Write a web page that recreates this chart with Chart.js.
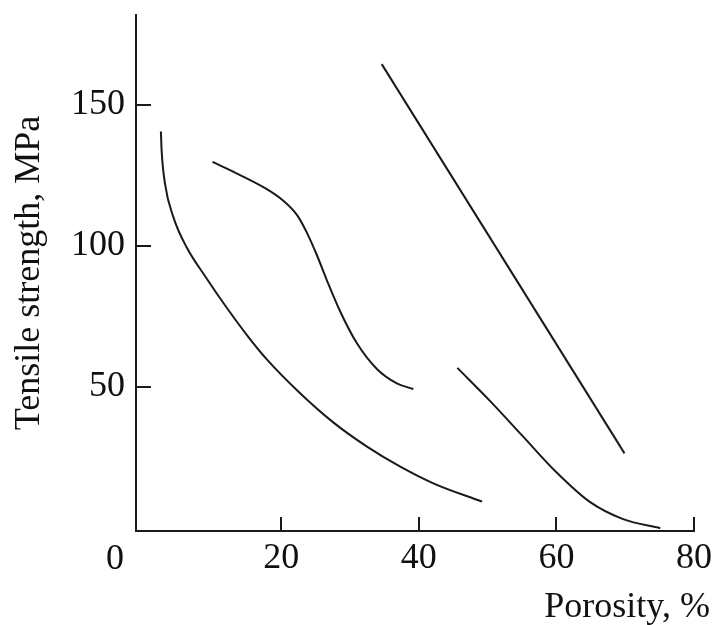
<!DOCTYPE html>
<html>
<head>
<meta charset="utf-8">
<script src="https://cdn.jsdelivr.net/npm/chart.js@4/dist/chart.umd.min.js"></script>
<style>
  html, body { margin: 0; padding: 0; background: #fff; }
  #wrap { width: 716px; height: 625px; }
</style>
</head>
<body>
<div id="wrap"><canvas id="strengthChart" width="716" height="625"></canvas></div>
<script>
// porosity (%) and tensile strength (MPa), one pair of arrays per curve
const curveAPorosity = [2.5, 2.6, 3.1, 4.3, 6.2, 9.2, 12.1, 15.2, 17.9, 22.7, 27.6, 32.4, 37.3, 42.1, 49.2];
const curveAStrength = [140.5, 134, 122, 110.3, 99.7, 88.3, 78.0, 67.8, 59.8, 47.9, 37.4, 29.0, 21.8, 15.9, 9.4];

const curveBPorosity = [10.0, 13.0, 17.9, 20.3, 22.3, 23.7, 25.2, 26.6, 28.6, 31.0, 33.9, 36.8, 39.2];
const curveBStrength = [129.8, 126.3, 120.1, 116.0, 110.9, 104.8, 96.6, 88.0, 76.6, 65.5, 56.4, 51.3, 49.3];

const curveCPorosity = [34.6, 69.9];
const curveCStrength = [164.4, 26.5];

const curveDPorosity = [45.6, 50.3, 55.1, 60.0, 64.8, 69.7, 75.1];
const curveDStrength = [56.8, 45.2, 32.6, 19.8, 9.4, 3.2, 0.0];

const xTickValues = [20, 40, 60, 80];
const yTickValues = [50, 100, 150];

const FONT = '"Liberation Serif", "Times New Roman", serif';
const INK = '#1a1a1a';

function toPoints(xs, ys) {
    return xs.map((x, i) => ({ x: x, y: ys[i] }));
}

function curve(xs, ys, smooth) {
    return {
        data: toPoints(xs, ys),
        showLine: true,
        borderColor: INK,
        borderWidth: 2,
        pointRadius: 0,
        fill: false,
        tension: 0,
        cubicInterpolationMode: smooth ? 'monotone' : 'default'
    };
}

// inward tick marks, the lone "0" at the corner and the x title at the far right
const axisExtras = {
    id: 'axisExtras',
    afterDraw(chart) {
        const { ctx, chartArea, scales } = chart;
        ctx.save();
        ctx.strokeStyle = INK;
        ctx.lineWidth = 2;
        ctx.beginPath();
        xTickValues.forEach(v => {
            const px = Math.round(scales.x.getPixelForValue(v));
            ctx.moveTo(px, chartArea.bottom);
            ctx.lineTo(px, chartArea.bottom - 14);
        });
        yTickValues.forEach(v => {
            const py = Math.round(scales.y.getPixelForValue(v));
            ctx.moveTo(chartArea.left, py);
            ctx.lineTo(chartArea.left + 15, py);
        });
        ctx.stroke();

        ctx.fillStyle = '#111';
        ctx.font = '36px ' + FONT;
        ctx.textBaseline = 'alphabetic';
        ctx.textAlign = 'center';
        ctx.fillText('0', 115, 569);
        ctx.textAlign = 'right';
        ctx.fillText('Porosity, %', 710, 617);
        ctx.restore();
    }
};

new Chart(document.getElementById('strengthChart'), {
    type: 'scatter',
    data: {
        datasets: [
            curve(curveAPorosity, curveAStrength, true),
            curve(curveBPorosity, curveBStrength, true),
            curve(curveCPorosity, curveCStrength, false),
            curve(curveDPorosity, curveDStrength, true)
        ]
    },
    options: {
        responsive: false,
        animation: false,
        layout: { padding: { top: 15, right: 22, bottom: 0, left: 0 } },
        plugins: {
            legend: { display: false },
            tooltip: { enabled: false }
        },
        scales: {
            x: {
                type: 'linear',
                min: -1.12,
                max: 80,
                afterBuildTicks: scale => { scale.ticks = xTickValues.map(v => ({ value: v })); },
                afterFit: scale => {
                    scale.height = 94;
                    scale.paddingLeft = 0;
                    scale.paddingRight = 0;
                },
                grid: { display: false },
                border: { display: true, color: INK, width: 2 },
                ticks: {
                    color: '#111',
                    padding: -2,
                    maxRotation: 0,
                    autoSkip: false,
                    font: { family: FONT, size: 36 }
                }
            },
            y: {
                type: 'linear',
                min: -1.0,
                max: 181.8,
                afterBuildTicks: scale => { scale.ticks = yTickValues.map(v => ({ value: v })); },
                afterFit: scale => {
                    scale.width = 136;
                    scale.paddingTop = 0;
                    scale.paddingBottom = 0;
                },
                grid: { display: false },
                border: { display: true, color: INK, width: 2 },
                title: {
                    display: true,
                    text: 'Tensile strength, MPa',
                    color: '#111',
                    padding: { top: 8, bottom: 0 },
                    font: { family: FONT, size: 36 }
                },
                ticks: {
                    color: '#111',
                    padding: 3,
                    autoSkip: false,
                    font: { family: FONT, size: 36 }
                }
            }
        }
    },
    plugins: [axisExtras]
});
</script>
</body>
</html>
